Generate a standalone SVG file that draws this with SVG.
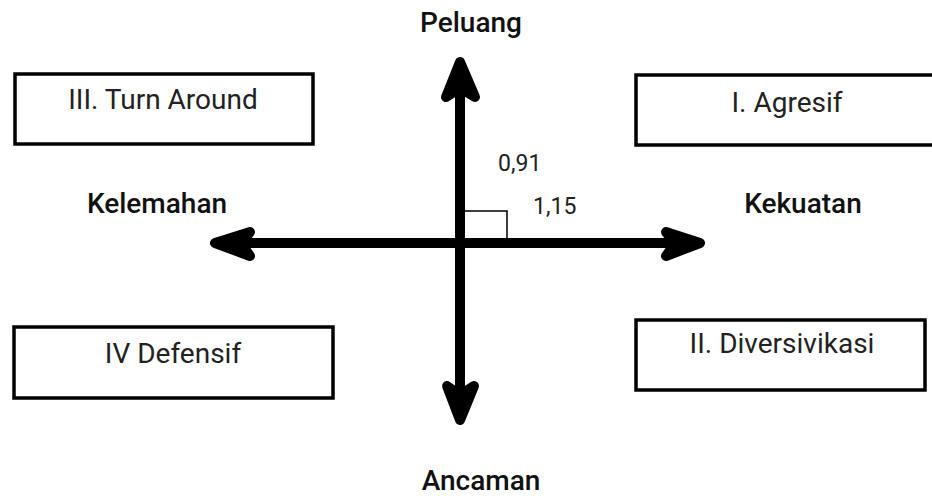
<svg xmlns="http://www.w3.org/2000/svg" width="932" height="496" viewBox="0 0 932 496">
  <style>
    .box { fill: #ffffff; stroke: #000000; stroke-width: 3.5; }
    .box-label { font-family: Roboto, "Liberation Sans", sans-serif; font-size: 28px; fill: #222222; text-anchor: middle; }
    .axis-label { font-family: Roboto, "Liberation Sans", sans-serif; font-size: 28px; font-weight: 500; fill: #111111; text-anchor: middle; }
    .value { font-family: Roboto, "Liberation Sans", sans-serif; font-size: 23px; fill: #222222; }
    .shaft { stroke: #000000; stroke-width: 10; fill: none; }
    .head { fill: #000000; stroke: #000000; stroke-width: 10; stroke-linejoin: round; stroke-linecap: round; }
  </style>
  <rect width="932" height="496" fill="#ffffff"/>

  <!-- quadrant boxes -->
  <g id="turn-around">
    <rect class="box" x="15" y="74" width="298" height="70"/>
    <text class="box-label" x="163" y="109">III. Turn Around</text>
  </g>
  <g id="agresif">
    <rect class="box" x="636" y="75" width="304" height="70"/>
    <text class="box-label" x="787" y="112">I. Agresif</text>
  </g>
  <g id="defensif">
    <rect class="box" x="14" y="327" width="319" height="71"/>
    <text class="box-label" x="173" y="363">IV Defensif</text>
  </g>
  <g id="diversivikasi">
    <rect class="box" x="636" y="320" width="289" height="70"/>
    <text class="box-label" x="782" y="353">II. Diversivikasi</text>
  </g>

  <!-- axis labels -->
  <g id="peluang"><text class="axis-label" x="471" y="32">Peluang</text></g>
  <g id="kelemahan"><text class="axis-label" x="157" y="213">Kelemahan</text></g>
  <g id="kekuatan"><text class="axis-label" x="803" y="213">Kekuatan</text></g>
  <g id="ancaman"><text class="axis-label" x="481" y="490">Ancaman</text></g>

  <!-- position values -->
  <g id="values">
    <text class="value" x="498" y="171">0,91</text>
    <text class="value" x="533" y="214">1,15</text>
  </g>

  <!-- axes with arrowheads -->
  <g id="connectors">
    <line class="shaft" x1="460" y1="70" x2="460" y2="412"/>
    <line class="shaft" x1="222" y1="243" x2="693" y2="243"/>
    <path class="head" d="M446,97 L460,62 L475,97 L460,88 Z"/>
    <path class="head" d="M447,386 L460,420 L474,386 L460,395 Z"/>
    <path class="head" d="M250,232 L215,243 L250,256 L241,243 Z"/>
    <path class="head" d="M666,232 L700,243 L666,256 L675,243 Z"/>
    <!-- position marker -->
    <polyline points="465,211 507,211 507,239" fill="none" stroke="#000000" stroke-width="1.5"/>
  </g>
</svg>
